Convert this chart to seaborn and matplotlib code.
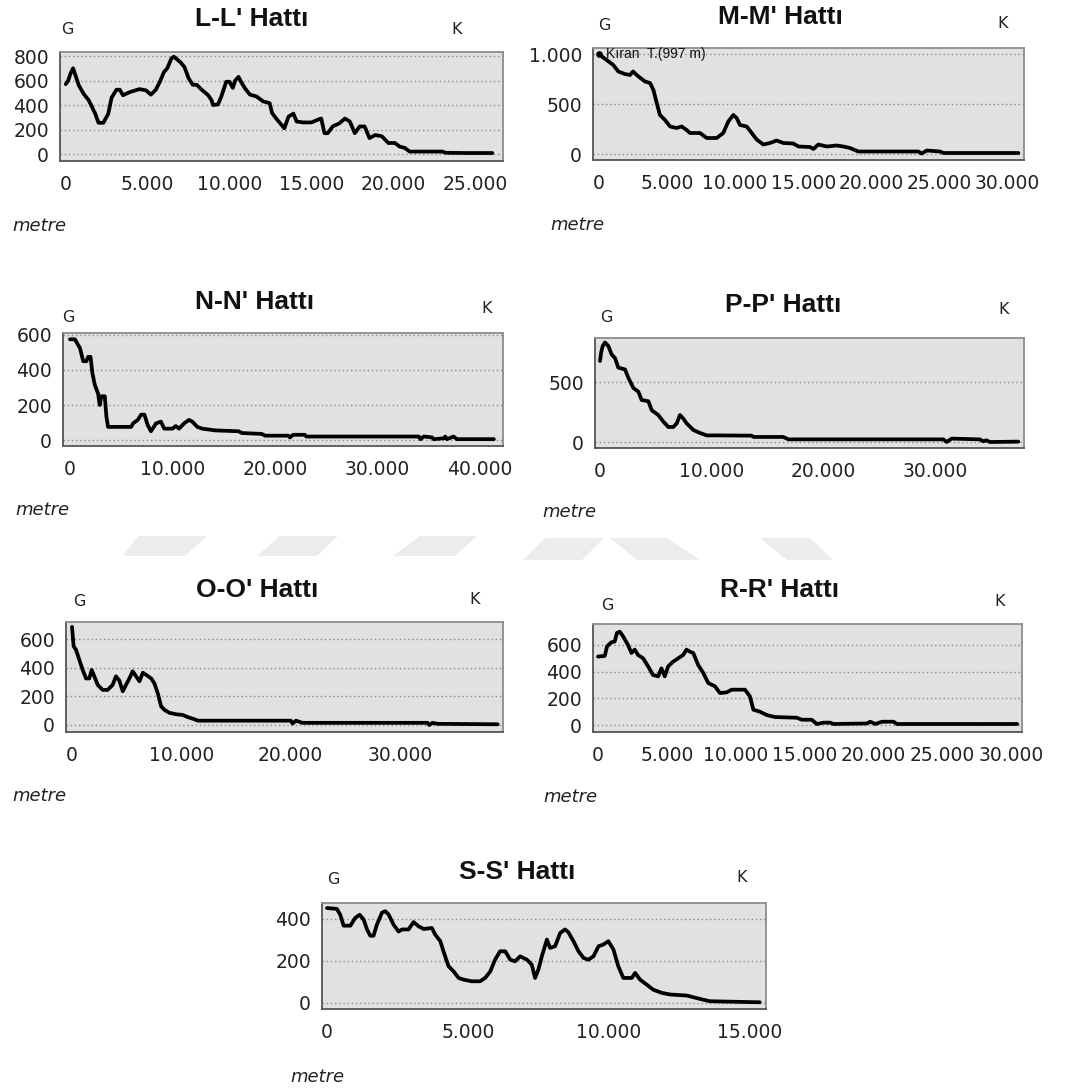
import matplotlib
matplotlib.use("Agg")
import matplotlib.pyplot as plt
import numpy as np
import pandas as pd
import seaborn as sns
from matplotlib.ticker import FuncFormatter
from matplotlib.patches import Polygon

# ---------------------------------------------------------------------------
# Profile data: distance along the line (m) and elevation (m)
# ---------------------------------------------------------------------------
ll_x = [0, 150, 300, 450, 600, 800, 1100, 1400, 1800, 2000, 2300, 2600, 2800, 3100, 3300,
        3500, 3900, 4500, 4900, 5200, 5500, 5750, 6000, 6200, 6450, 6600, 7000, 7250, 7500,
        7750, 8000, 8300, 8700, 8900, 9000, 9300, 9500, 9800, 10000, 10200, 10350, 10550,
        10700, 10950, 11250, 11650, 12050, 12450, 12600, 12850, 13100, 13350, 13600, 13900,
        14100, 14500, 15000, 15400, 15600, 15800, 16000, 16300, 16700, 17050, 17350, 17650,
        17950, 18250, 18550, 18900, 19300, 19700, 20100, 20400, 20700, 21000, 21600, 23000,
        23200, 24500, 26050]
ll_y = [570, 600, 660, 700, 640, 560, 490, 440, 330, 255, 255, 330, 460, 525, 525,
        480, 505, 530, 520, 485, 525, 590, 670, 700, 780, 795, 750, 710, 620,
        565, 565, 525, 480, 440, 400, 405, 470, 590, 590, 540, 600, 630,
        590, 535, 485, 470, 430, 415, 335, 290, 250, 210, 305, 330,
        265, 258, 258, 280, 290, 170, 170, 225, 250, 290, 265, 170,
        225, 225, 130, 155, 145, 90, 90, 60, 50, 20, 20, 20,
        10, 8, 8]

mm_x = [0, 560, 1050, 1420, 1900, 2280, 2500, 2900, 3380, 3750, 4000, 4240, 4480, 4850,
        5220, 5700, 6070, 6440, 6690, 7420, 7910, 8650, 9130, 9500, 9870, 10110, 10360,
        10850, 11220, 11580, 12070, 12560, 13050, 13540, 14280, 14650, 15500, 15750, 16110,
        16730, 17460, 17950, 18440, 19050, 20650, 23460, 23700, 24080, 25050, 25300, 30810]
mm_y = [997, 940, 890, 825, 800, 790, 825, 775, 725, 710, 640, 510, 390, 340,
        275, 260, 275, 240, 210, 210, 160, 160, 210, 325, 390, 360, 290,
        275, 210, 145, 95, 110, 135, 110, 105, 75, 70, 50, 95,
        75, 85, 75, 60, 25, 25, 25, 5, 35, 25, 10, 10]

nn_x = [0, 480, 970, 1290, 1600, 1770, 2000, 2190, 2420, 2740, 2900, 3060, 3390, 3550,
        3710, 5970, 6150, 6610, 6940, 7260, 7580, 7900, 8390, 8870, 9190, 10000, 10320,
        10640, 11130, 11610, 11930, 12420, 12900, 14190, 16450, 16770, 18710, 19030, 21290,
        21450, 21770, 22900, 23060, 34030, 34190, 34520, 35320, 35480, 36450, 36610, 36770,
        37420, 37740, 41350]
nn_y = [575, 575, 525, 450, 450, 475, 475, 380, 315, 265, 200, 250, 250, 135,
        75, 75, 95, 115, 145, 145, 85, 50, 95, 105, 65, 65, 80,
        65, 95, 115, 105, 75, 65, 55, 50, 40, 35, 25, 25,
        15, 30, 30, 20, 20, 5, 20, 15, 5, 10, 20, 5,
        20, 5, 5]

pp_x = [0, 100, 240, 450, 750, 1040, 1340, 1640, 2240, 2540, 2990, 3430, 3730, 4330,
        4630, 5220, 5670, 6120, 6570, 6870, 7160, 7460, 7760, 8360, 8960, 9550, 10450,
        13580, 13730, 16420, 16870, 30750, 31040, 31490, 34000, 34330, 34600, 34930, 37460]
pp_y = [675, 745, 800, 830, 800, 730, 700, 620, 605, 535, 450, 420, 350, 340,
        265, 225, 170, 125, 125, 155, 225, 195, 155, 100, 75, 55, 55,
        53, 42, 42, 22, 22, 0, 28, 22, 6, 14, 0, 3]

oo_x = [0, 150, 365, 670, 975, 1280, 1585, 1800, 2040, 2350, 2800, 3260, 3720, 4020,
        4330, 4640, 4940, 5250, 5550, 5860, 6170, 6480, 6780, 7240, 7540, 7850, 8150,
        8460, 8910, 9520, 10130, 10590, 11200, 11500, 20020, 20170, 20480, 21080, 32520,
        32670, 32980, 33440, 38930]
oo_y = [685, 550, 525, 455, 385, 325, 325, 385, 340, 280, 245, 245, 280, 340,
        310, 235, 280, 325, 375, 340, 305, 365, 350, 325, 290, 220, 130,
        105, 85, 75, 70, 55, 40, 30, 30, 10, 30, 15, 15,
        0, 15, 8, 5]

rr_x = [0, 490, 660, 970, 1210, 1380, 1580, 1820, 2180, 2430, 2670, 2910, 3280, 3640,
        4000, 4370, 4610, 4850, 5100, 5460, 5830, 6190, 6430, 6670, 6920, 7280, 7650,
        8010, 8500, 8860, 9350, 9710, 10680, 11040, 11290, 11770, 12260, 12860, 14440,
        14810, 15530, 15900, 16380, 16870, 17110, 19540, 19780, 20150, 20630, 21480, 21720,
        30460]
rr_y = [513, 518, 590, 620, 625, 690, 700, 665, 600, 540, 565, 525, 500, 440,
        375, 365, 425, 365, 440, 475, 500, 525, 565, 550, 540, 450, 390,
        315, 290, 240, 245, 265, 265, 215, 115, 100, 75, 60, 55,
        40, 40, 8, 18, 18, 8, 12, 25, 8, 25, 25, 8,
        8]

ss_x = [0, 350, 470, 590, 830, 1000, 1160, 1300, 1420, 1535, 1650, 1770, 1950, 2070,
        2190, 2360, 2540, 2660, 2890, 3070, 3250, 3430, 3720, 3840, 4020, 4130, 4310,
        4490, 4670, 4840, 5130, 5430, 5610, 5790, 5960, 6140, 6320, 6500, 6670, 6850,
        7090, 7260, 7380, 7500, 7620, 7800, 7910, 8090, 8270, 8440, 8560, 8740, 8920,
        9100, 9270, 9450, 9630, 9800, 9980, 10160, 10330, 10510, 10810, 10930, 11100,
        11340, 11570, 11870, 12170, 12760, 13230, 13580, 15350]
ss_y = [452, 448, 420, 368, 368, 405, 420, 397, 350, 320, 320, 373, 430, 437,
        420, 373, 340, 350, 350, 385, 365, 352, 357, 325, 294, 246, 175,
        150, 119, 111, 103, 103, 119, 150, 206, 246, 246, 206, 198, 222,
        206, 183, 119, 160, 222, 302, 262, 270, 333, 350, 337, 294, 246,
        214, 206, 222, 270, 278, 294, 254, 175, 119, 119, 143, 111,
        87, 63, 48, 40, 35, 19, 8, 3]

titles = ["L-L' Hattı", "M-M' Hattı", "N-N' Hattı", "P-P' Hattı",
          "O-O' Hattı", "R-R' Hattı", "S-S' Hattı"]
xs = [ll_x, mm_x, nn_x, pp_x, oo_x, rr_x, ss_x]
ys = [ll_y, mm_y, nn_y, pp_y, oo_y, rr_y, ss_y]
xticks = [[0, 5000, 10000, 15000, 20000, 25000],
          [0, 5000, 10000, 15000, 20000, 25000, 30000],
          [0, 10000, 20000, 30000, 40000],
          [0, 10000, 20000, 30000],
          [0, 10000, 20000, 30000],
          [0, 5000, 10000, 15000, 20000, 25000, 30000],
          [0, 5000, 10000, 15000]]
yticks = [[0, 200, 400, 600, 800],
          [0, 500, 1000],
          [0, 200, 400, 600],
          [0, 500],
          [0, 200, 400, 600],
          [0, 200, 400, 600],
          [0, 200, 400]]
peak_label = "Kıran  T.(997 m)"
peak_x, peak_y = [0], [997]

# ---------------------------------------------------------------------------
# Layout (pixel units of the 1069 x 1091 canvas)
# ---------------------------------------------------------------------------
W, H = 1069, 1091
# axes box: left, right, top, bottom
boxes = [(60, 503, 52, 161), (593, 1024, 48, 160),
         (63, 503, 333, 446), (595, 1024, 338, 448),
         (66, 503, 622, 732), (593, 1022, 624, 732),
         (322, 766, 903, 1009)]
xlims = [(-350, 26700), (-440, 31220), (-683, 42240), (-448, 37970),
         (-549, 39420), (-363, 30810), (-177, 15570)]
ylims = [(-57, 833), (-60, 1060), (-34, 611), (-50, 867),
         (-49, 719), (-52, 757), (-29, 476)]
title_pos = [(252, 19), (780, 17), (255, 302), (783, 305),
             (257, 590), (780, 590), (517, 872)]
g_pos = [(67, 30), (604, 26), (68, 317), (606, 317),
         (79, 601), (607, 605), (333, 880)]
k_pos = [(457, 30), (1003, 23), (487, 308), (1004, 310),
         (475, 600), (1000, 601), (742, 878)]
metre_pos = [(12, 226), (550, 225), (15, 510), (542, 512),
             (12, 796), (543, 797), (290, 1077)]

sns.set_theme(style="white")
plt.rcParams["font.family"] = ["DejaVu Sans"]

fig = plt.figure(figsize=(W / 100, H / 100), dpi=100)
fig.patch.set_facecolor("white")


def fx(px):
    return px / W


def fy(py):
    return 1 - py / H


# faint background stripes between the second and third rows
stripes = [
    [(138, 536), (207, 536), (185, 556), (123, 556)],
    [(280, 536), (338, 536), (317, 556), (257, 556)],
    [(420, 536), (477, 536), (455, 556), (393, 556)],
    [(545, 538), (604, 538), (582, 560), (523, 560)],
    [(610, 538), (667, 538), (700, 560), (637, 560)],
    [(760, 538), (810, 538), (833, 560), (787, 560)],
]
for pts in stripes:
    fig.patches.append(Polygon([(fx(a), fy(b)) for a, b in pts], closed=True,
                               transform=fig.transFigure, facecolor="#ececec",
                               edgecolor="none", zorder=0))

thousands = FuncFormatter(lambda v, p: f"{int(round(v)):,}".replace(",", "."))

for i in range(7):
    l, r, t, b = boxes[i]
    ax = fig.add_axes([fx(l), fy(b), (r - l) / W, (b - t) / H])
    df = pd.DataFrame({"mesafe": xs[i], "yukseklik": ys[i]})
    sns.lineplot(data=df, x="mesafe", y="yukseklik", ax=ax, color="black",
                 linewidth=2.7, sort=False, zorder=3)
    ax.set_facecolor("#e1e1e1")
    ax.set_xlim(*xlims[i])
    ax.set_ylim(*ylims[i])
    ax.set_xticks(xticks[i])
    ax.set_yticks(yticks[i])
    ax.xaxis.set_major_formatter(thousands)
    ax.yaxis.set_major_formatter(thousands)
    ax.set_xlabel("")
    ax.set_ylabel("")
    ax.xaxis.grid(False)
    ax.yaxis.grid(True, linestyle=(0, (1, 2)), color="#8a8a8a", linewidth=1.0)
    ax.set_axisbelow(True)
    ax.tick_params(axis="both", direction="out", length=6, width=1.0,
                   colors="#222222", labelsize=13.5, pad=2)
    ax.tick_params(axis="x", pad=4)
    for side in ("top", "right"):
        ax.spines[side].set_color("#8c8c8c")
        ax.spines[side].set_linewidth(1.3)
    for side in ("left", "bottom"):
        ax.spines[side].set_color("#555555")
        ax.spines[side].set_linewidth(1.3)

    if i == 1:
        ax.scatter(peak_x, peak_y, s=14, color="black", zorder=4)
        ax.annotate(peak_label, xy=(peak_x[0], peak_y[0]), xytext=(5, 0),
                    textcoords="offset points", ha="left", va="center",
                    fontsize=10, color="#111111", family="Liberation Sans")

    fig.text(fx(title_pos[i][0]), fy(title_pos[i][1]), titles[i], ha="center",
             va="center", fontsize=19, fontweight="bold", color="#111111",
             family="Liberation Sans")
    fig.text(fx(g_pos[i][0]), fy(g_pos[i][1]), "G", ha="center", va="center",
             fontsize=11.5, color="#222222")
    fig.text(fx(k_pos[i][0]), fy(k_pos[i][1]), "K", ha="center", va="center",
             fontsize=11.5, color="#222222")
    fig.text(fx(metre_pos[i][0]), fy(metre_pos[i][1]), "metre", ha="left",
             va="center", fontsize=13, style="italic", color="#222222")

fig.savefig("out.png", dpi=100, facecolor="white")
